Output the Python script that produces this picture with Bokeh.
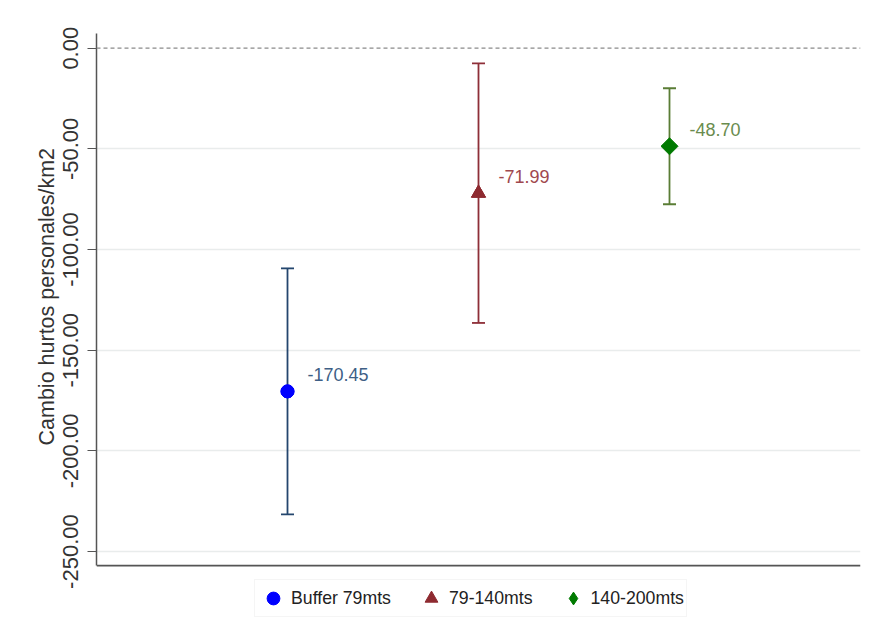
from bokeh.plotting import figure
from bokeh.models import (ColumnDataSource, Whisker, TeeHead, Span, FixedTicker,
                          NumeralTickFormatter, Legend, LegendItem, Range1d, Title)
from bokeh.core.properties import value
from bokeh.embed import file_html
from bokeh.resources import INLINE

# ---- data ----
groups = ["Buffer 79mts", "79-140mts", "140-200mts"]
xpos = [1, 2, 3]
estimates = [-170.45, -71.99, -48.70]
ci_lower = [-231.55, -136.45, -77.5]
ci_upper = [-109.35, -7.55, -19.9]
labels = ["-170.45", "-71.99", "-48.70"]
y_ticks = [0, -50, -100, -150, -200, -250]
y_axis_top = 7.3
y_axis_bottom = -257
y_label = "Cambio hurtos personales/km2"

markers = ["circle", "triangle", "square"]
legend_markers = ["circle", "triangle", "diamond"]
marker_angles = [0, 0, 0.785398]
marker_colors = ["#0000ff", "#8e2a30", "#007a00"]
line_colors = ["#24466e", "#8e2f38", "#5a7d35"]
label_colors = ["#3e5f86", "#a0484e", "#6a8c4e"]
marker_sizes = [13, 14, 12]

FONT = "Liberation Sans"

# frame extends below the axis to hold the legend
p = figure(width=864, height=635, output_backend="svg", toolbar_location=None,
           x_range=Range1d(0, 4), y_range=Range1d(-289.2, y_axis_top),
           x_axis_location=None,
           min_border_left=96, min_border_right=4, min_border_top=33,
           min_border_bottom=5)
p.outline_line_color = None
p.background_fill_color = "white"
p.border_fill_color = "white"

# grid
p.xgrid.visible = False
p.ygrid.ticker = FixedTicker(ticks=[t for t in y_ticks if t != 0])
p.ygrid.grid_line_color = "#e9ecec"
p.ygrid.grid_line_width = 1.5

# zero line
p.add_layout(Span(location=0, dimension="width", line_color="#8a8a8a",
                  line_dash="4 3", line_width=1.2))
# x axis line
p.add_layout(Span(location=y_axis_bottom, dimension="width", line_color="#555555",
                  line_width=1.8))

# y axis
ya = p.yaxis[0]
ya.bounds = (y_axis_bottom, y_axis_top)
ya.ticker = FixedTicker(ticks=y_ticks)
ya.formatter = NumeralTickFormatter(format="0.00")
ya.major_label_orientation = "vertical"
ya.major_label_text_font = FONT
ya.major_label_text_font_size = "22px"
ya.major_label_text_color = "#333333"
ya.major_label_standoff = 9
ya.major_tick_out = 9
ya.major_tick_in = 0
ya.minor_tick_out = 0
ya.minor_tick_in = 0
ya.axis_line_color = "#555555"
ya.axis_line_width = 1.5
ya.major_tick_line_color = "#555555"
ya.major_tick_line_width = 1.2

p.add_layout(Title(text=y_label, align="left", offset=185, standoff=4,
                   text_font=FONT, text_font_size="21.5px",
                   text_font_style="normal", text_color="#333333"), "left")

items = []
for i in range(len(groups)):
    src = ColumnDataSource(dict(x=[xpos[i]], y=[estimates[i]], lo=[ci_lower[i]],
                                hi=[ci_upper[i]], lab=[labels[i]]))
    w = Whisker(base="x", upper="hi", lower="lo", source=src,
                line_color=line_colors[i], line_width=1.8,
                upper_head=TeeHead(size=13, line_color=line_colors[i], line_width=1.8),
                lower_head=TeeHead(size=13, line_color=line_colors[i], line_width=1.8))
    p.add_layout(w)
    # legend glyph (sits beneath the plotted marker)
    rl = p.scatter("x", "y", source=src, marker=legend_markers[i], size=marker_sizes[i],
                   fill_color=marker_colors[i], line_color=marker_colors[i])
    p.scatter("x", "y", source=src, marker=markers[i], size=marker_sizes[i],
              angle=marker_angles[i],
              fill_color=marker_colors[i], line_color=marker_colors[i])
    items.append(LegendItem(label=groups[i], renderers=[rl]))
    p.text("x", "y", text="lab", source=src, x_offset=20, y_offset=-17,
           text_font=value(FONT), text_font_size="18px",
           text_color=label_colors[i], text_baseline="middle", text_align="left")

legend = Legend(items=items, orientation="horizontal", location=(158, 13))
legend.label_text_font = FONT
legend.label_text_font_size = "17.7px"
legend.label_text_color = "#222222"
legend.border_line_color = "#ececec"
legend.border_line_width = 1
legend.background_fill_color = "white"
legend.glyph_width = 32
legend.glyph_height = 32
legend.label_standoff = 2
legend.spacing = 24
legend.padding = 2
legend.margin = 0
p.add_layout(legend, "center")

open("out.html", "w").write(file_html(p, INLINE))
